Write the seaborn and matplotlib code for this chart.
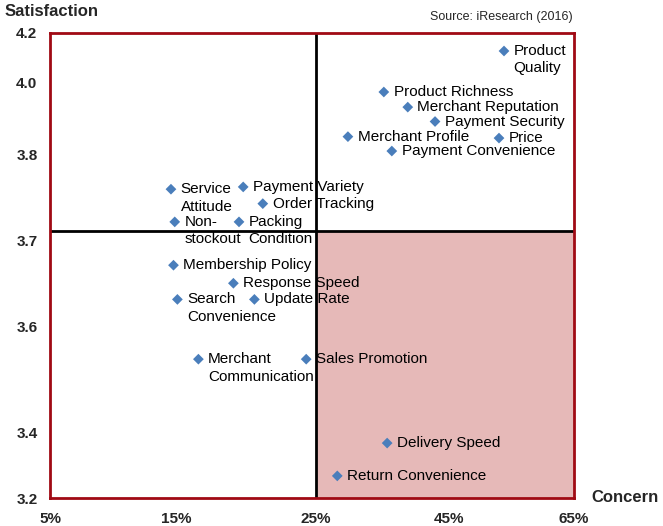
import numpy as np
import pandas as pd
import seaborn as sns
import matplotlib.pyplot as plt
from matplotlib.transforms import ScaledTranslation

# Data
factors = [
    "Product\nQuality", "Product Richness", "Merchant Reputation", "Payment Security",
    "Merchant Profile", "Price", "Payment Convenience", "Service\nAttitude",
    "Payment Variety", "Order Tracking", "Non-\nstockout", "Packing\nCondition",
    "Membership Policy", "Response Speed", "Search\nConvenience", "Update Rate",
    "Merchant\nCommunication", "Sales Promotion", "Delivery Speed", "Return Convenience",
]
concern = [53.8, 35.2, 38.8, 42.9, 29.8, 53.0, 36.4, 14.6, 19.8, 21.2,
           14.9, 19.5, 14.8, 19.1, 15.1, 20.6, 16.6, 24.3, 35.7, 28.2]
satisfaction = [4.128, 3.975, 3.933, 3.893, 3.851, 3.847, 3.811, 3.755, 3.758, 3.736,
                3.712, 3.712, 3.664, 3.645, 3.628, 3.628, 3.538, 3.538, 3.369, 3.268]

x_ticks = [5, 15, 25, 45, 65]
x_tick_labels = ["5%", "15%", "25%", "45%", "65%"]
y_ticks = [3.2, 3.4, 3.6, 3.7, 3.8, 4.0, 4.2]
y_tick_labels = ["3.2", "3.4", "3.6", "3.7", "3.8", "4.0", "4.2"]

# The original axes are stretched unevenly between ticks
x_stretch = [0, 126, 266, 399, 524]
y_stretch = [0, 65, 172, 267, 343, 415, 465]

df = pd.DataFrame({"factor": factors, "concern": concern, "satisfaction": satisfaction})

sns.set_style("white")
plt.rcParams["font.family"] = ["Liberation Sans", "DejaVu Sans"]

fig = plt.figure(figsize=(6.63, 5.26), dpi=100)
ax = fig.add_axes([50 / 663, 28 / 526, 524 / 663, 465 / 526])

ax.set_xscale("function", functions=(lambda v: np.interp(v, x_ticks, x_stretch),
                                     lambda p: np.interp(p, x_stretch, x_ticks)))
ax.set_yscale("function", functions=(lambda v: np.interp(v, y_ticks, y_stretch),
                                     lambda p: np.interp(p, y_stretch, y_ticks)))

# Quadrant shading and dividers
ax.fill_between([25, 65], 3.2, 3.7, color="#E6B9B8", zorder=0, linewidth=0)
ax.axvline(25, color="black", lw=2, zorder=1)
ax.axhline(3.7, color="black", lw=2, zorder=1)

sns.scatterplot(data=df, x="concern", y="satisfaction", marker="D", s=30,
                color="#4A7EBB", edgecolor="none", ax=ax, zorder=3)

for _, row in df.iterrows():
    ax.annotate(row["factor"], (row["concern"], row["satisfaction"]),
                xytext=(7, 5), textcoords="offset points", ha="left", va="top",
                fontsize=11, color="black", linespacing=1.3, zorder=4)

ax.set_xlim(5, 65)
ax.set_ylim(3.2, 4.2)
ax.set_xticks(x_ticks)
ax.set_xticklabels(x_tick_labels, fontweight="bold", fontsize=11)
ax.set_yticks(y_ticks)
ax.set_yticklabels(y_tick_labels, fontweight="bold", fontsize=11)
ax.tick_params(axis="both", length=0)
ax.tick_params(axis="x", pad=10)
ax.tick_params(axis="y", pad=9)
ax.set_xlabel("")
ax.set_ylabel("")

for lbl in ax.get_yticklabels():
    if lbl.get_text() == "3.7":
        lbl.set_transform(lbl.get_transform() + ScaledTranslation(0, -0.1, fig.dpi_scale_trans))

for spine in ax.spines.values():
    spine.set_color("#A00A14")
    spine.set_linewidth(2)

fig.text(5 / 663, 1 - 12 / 526, "Satisfaction", fontsize=12, fontweight="bold",
         ha="left", va="center")
fig.text(573 / 663, 1 - 17 / 526, "Source: iResearch (2016)", fontsize=9,
         ha="right", va="center")
fig.text(625 / 663, 1 - 498 / 526, "Concern", fontsize=12, fontweight="bold",
         ha="center", va="center")

fig.savefig("out.png", dpi=100)
